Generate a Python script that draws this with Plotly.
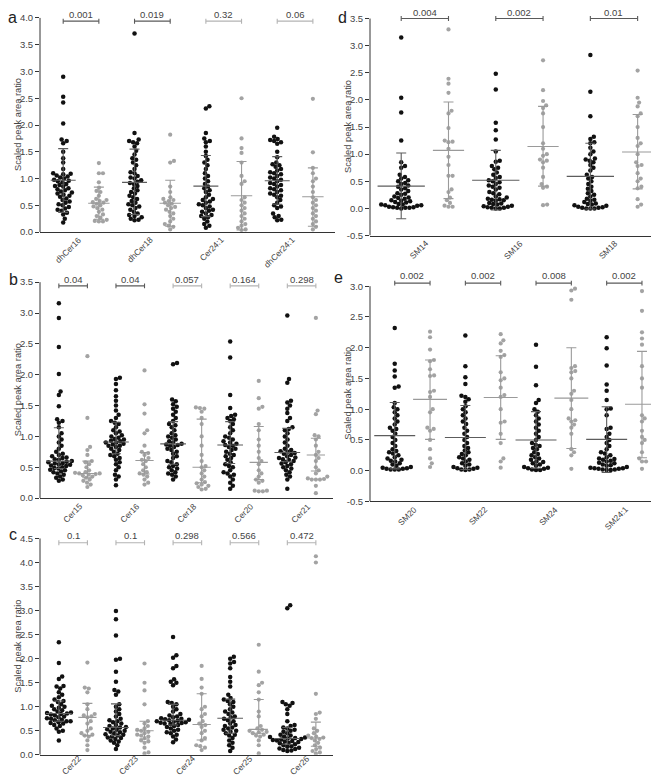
import math
import plotly.graph_objects as go

# ---------------- DATA ----------------
# Panel a
A_CATS = ["dhCer16", "dhCer18", "Cer24:1", "dhCer24:1"]
A_P = ["0.001", "0.019", "0.32", "0.06"]
A_BLACK = [
    [2.90, 2.53, 2.42, 2.03, 1.73, 1.70, 1.66, 1.50, 1.38, 1.30, 1.18, 1.10, 1.09, 1.08, 1.06, 1.04, 1.02, 1.00, 0.98, 0.96,
     0.95, 0.93, 0.90, 0.88, 0.86, 0.85, 0.82, 0.80, 0.78, 0.76, 0.74, 0.72, 0.70, 0.68, 0.66, 0.63, 0.60, 0.57, 0.55, 0.52,
     0.50, 0.47, 0.44, 0.42, 0.40, 0.36, 0.33, 0.25, 0.18],
    [3.71, 1.85, 1.73, 1.70, 1.68, 1.66, 1.60, 1.52, 1.45, 1.38, 1.35, 1.30, 1.25, 1.18, 1.12, 1.10, 1.05, 1.02, 1.00, 0.97,
     0.94, 0.92, 0.90, 0.86, 0.82, 0.78, 0.75, 0.72, 0.68, 0.65, 0.62, 0.58, 0.55, 0.52, 0.50, 0.48, 0.45, 0.42, 0.38, 0.35,
     0.32, 0.30, 0.28, 0.25, 0.23, 0.22],
    [2.35, 2.31, 1.85, 1.75, 1.70, 1.68, 1.60, 1.50, 1.42, 1.35, 1.30, 1.25, 1.18, 1.10, 1.05, 1.00, 0.95, 0.90, 0.85, 0.82,
     0.78, 0.75, 0.70, 0.65, 0.62, 0.60, 0.57, 0.55, 0.52, 0.50, 0.48, 0.45, 0.42, 0.40, 0.38, 0.35, 0.32, 0.30, 0.28, 0.25,
     0.20, 0.15, 0.12, 0.08],
    [1.95, 1.78, 1.74, 1.72, 1.70, 1.68, 1.65, 1.50, 1.40, 1.30, 1.27, 1.25, 1.22, 1.18, 1.15, 1.12, 1.10, 1.08, 1.05, 1.02,
     1.00, 0.98, 0.95, 0.92, 0.90, 0.88, 0.85, 0.82, 0.80, 0.78, 0.75, 0.72, 0.70, 0.68, 0.65, 0.60, 0.55, 0.50, 0.48, 0.45,
     0.35, 0.30, 0.28, 0.23, 0.22],
]
A_GRAY = [
    [1.29, 1.10, 1.10, 0.93, 0.83, 0.77, 0.75, 0.68, 0.62, 0.60, 0.58, 0.56, 0.55, 0.53, 0.50, 0.48, 0.45, 0.42, 0.38, 0.33,
     0.30, 0.27, 0.23, 0.21, 0.20, 0.20],
    [1.82, 1.33, 1.30, 0.85, 0.75, 0.65, 0.62, 0.60, 0.58, 0.55, 0.53, 0.50, 0.47, 0.45, 0.42, 0.38, 0.35, 0.30, 0.25, 0.20,
     0.15, 0.12, 0.10, 0.05],
    [2.50, 1.75, 1.57, 1.48, 1.30, 1.05, 0.95, 0.90, 0.65, 0.60, 0.55, 0.50, 0.45, 0.40, 0.35, 0.30, 0.25, 0.20, 0.15, 0.12,
     0.08, 0.05, 0.04],
    [2.49, 1.49, 1.20, 1.10, 1.00, 0.95, 0.85, 0.75, 0.65, 0.60, 0.55, 0.50, 0.45, 0.40, 0.35, 0.30, 0.25, 0.20, 0.15, 0.10,
     0.05],
]
A_BLACK_MID = [0.97, 0.93, 0.86, 0.96]
A_BLACK_LO = [0.37, 0.33, 0.29, 0.52]
A_BLACK_HI = [1.56, 1.55, 1.43, 1.41]
A_GRAY_MID = [0.54, 0.54, 0.68, 0.66]
A_GRAY_LO = [0.24, 0.11, 0.04, 0.11]
A_GRAY_HI = [0.84, 0.97, 1.32, 1.20]

# Panel b
B_CATS = ["Cer15", "Cer16", "Cer18", "Cer20", "Cer21"]
B_P = ["0.04", "0.04", "0.057", "0.164", "0.298"]
B_BLACK = [
    [3.16, 2.92, 2.45, 2.01, 1.73, 1.67, 1.49, 1.28, 1.25, 1.22, 1.15, 1.05, 1.00, 0.95, 0.90, 0.85, 0.80, 0.75, 0.72, 0.70,
     0.68, 0.66, 0.65, 0.63, 0.62, 0.60, 0.59, 0.58, 0.57, 0.56, 0.55, 0.54, 0.53, 0.52, 0.50, 0.49, 0.48, 0.46, 0.45, 0.43,
     0.42, 0.40, 0.38, 0.35, 0.33, 0.30, 0.28],
    [1.95, 1.93, 1.85, 1.75, 1.65, 1.58, 1.50, 1.42, 1.35, 1.30, 1.25, 1.22, 1.20, 1.15, 1.10, 1.08, 1.05, 1.02, 1.00, 0.98,
     0.96, 0.95, 0.93, 0.92, 0.90, 0.90, 0.88, 0.87, 0.85, 0.85, 0.83, 0.80, 0.78, 0.75, 0.72, 0.70, 0.68, 0.65, 0.62, 0.58,
     0.55, 0.50, 0.45, 0.38, 0.35, 0.30, 0.21],
    [2.19, 2.17, 1.60, 1.57, 1.52, 1.48, 1.45, 1.40, 1.35, 1.30, 1.25, 1.20, 1.18, 1.15, 1.10, 1.05, 1.02, 1.00, 0.98, 0.95,
     0.92, 0.90, 0.88, 0.87, 0.86, 0.85, 0.83, 0.80, 0.78, 0.75, 0.72, 0.68, 0.65, 0.60, 0.58, 0.55, 0.52, 0.50, 0.48, 0.45,
     0.42, 0.40, 0.38, 0.35, 0.30],
    [2.54, 2.28, 1.67, 1.46, 1.35, 1.33, 1.30, 1.28, 1.25, 1.20, 1.15, 1.10, 1.05, 1.00, 0.98, 0.95, 0.92, 0.90, 0.88, 0.86,
     0.85, 0.83, 0.80, 0.78, 0.75, 0.72, 0.70, 0.68, 0.65, 0.62, 0.58, 0.55, 0.52, 0.50, 0.45, 0.42, 0.40, 0.38, 0.35, 0.30,
     0.25, 0.20, 0.15],
    [2.96, 1.93, 1.87, 1.58, 1.55, 1.50, 1.45, 1.38, 1.30, 1.25, 1.15, 1.12, 1.10, 1.05, 1.00, 0.95, 0.90, 0.85, 0.80, 0.78,
     0.76, 0.75, 0.73, 0.72, 0.70, 0.68, 0.66, 0.65, 0.63, 0.62, 0.60, 0.58, 0.56, 0.55, 0.52, 0.50, 0.48, 0.45, 0.42, 0.38,
     0.35, 0.30, 0.15],
]
B_GRAY = [
    [2.30, 1.30, 0.83, 0.78, 0.70, 0.60, 0.58, 0.55, 0.50, 0.45, 0.42, 0.41, 0.40, 0.40, 0.39, 0.38, 0.37, 0.35, 0.33, 0.30,
     0.28, 0.25, 0.22, 0.18],
    [2.07, 1.52, 1.37, 1.10, 1.05, 0.85, 0.75, 0.73, 0.70, 0.65, 0.62, 0.60, 0.55, 0.50, 0.45, 0.42, 0.40, 0.38, 0.35, 0.30,
     0.25, 0.22],
    [1.47, 1.46, 1.45, 1.40, 1.30, 1.20, 1.00, 0.85, 0.70, 0.60, 0.52, 0.50, 0.45, 0.40, 0.35, 0.30, 0.26, 0.24, 0.22, 0.20,
     0.18, 0.15, 0.14],
    [1.90, 1.62, 1.48, 1.45, 1.20, 1.10, 0.95, 0.85, 0.75, 0.65, 0.60, 0.55, 0.45, 0.40, 0.35, 0.30, 0.28, 0.25, 0.12, 0.11,
     0.11, 0.12],
    [2.92, 1.42, 1.36, 1.02, 1.00, 0.95, 0.85, 0.75, 0.70, 0.65, 0.60, 0.50, 0.45, 0.40, 0.35, 0.32, 0.31, 0.30, 0.30, 0.30,
     0.20, 0.08],
]
B_BLACK_MID = [0.60, 0.91, 0.88, 0.86, 0.74]
B_BLACK_LO = [0.48, 0.72, 0.55, 0.56, 0.59]
B_BLACK_HI = [1.14, 1.23, 1.24, 1.24, 1.13]
B_GRAY_MID = [0.40, 0.61, 0.50, 0.58, 0.70]
B_GRAY_LO = [0.33, 0.39, 0.25, 0.30, 0.44]
B_GRAY_HI = [0.60, 0.74, 1.28, 1.16, 0.97]

# Panel c
C_CATS = ["Cer22", "Cer23", "Cer24", "Cer25", "Cer26"]
C_P = ["0.1", "0.1", "0.298", "0.566", "0.472"]
C_BLACK = [
    [2.34, 1.91, 1.63, 1.58, 1.43, 1.42, 1.38, 1.30, 1.25, 1.20, 1.15, 1.12, 1.10, 1.05, 1.02, 1.00, 0.98, 0.95, 0.93, 0.90,
     0.88, 0.87, 0.86, 0.85, 0.84, 0.82, 0.80, 0.78, 0.76, 0.75, 0.73, 0.72, 0.70, 0.70, 0.68, 0.66, 0.65, 0.62, 0.60, 0.55,
     0.50, 0.48, 0.30],
    [2.99, 2.82, 2.48, 2.00, 1.98, 1.73, 1.52, 1.35, 1.32, 1.25, 1.05, 1.00, 0.95, 0.90, 0.85, 0.80, 0.75, 0.72, 0.70, 0.68,
     0.65, 0.62, 0.60, 0.58, 0.57, 0.55, 0.53, 0.52, 0.50, 0.48, 0.47, 0.45, 0.43, 0.42, 0.40, 0.38, 0.36, 0.35, 0.33, 0.30,
     0.28, 0.25, 0.20, 0.12],
    [2.45, 2.07, 2.02, 1.85, 1.80, 1.57, 1.52, 1.50, 1.45, 1.10, 1.08, 1.05, 1.00, 0.95, 0.90, 0.85, 0.82, 0.80, 0.78, 0.76,
     0.75, 0.74, 0.73, 0.72, 0.71, 0.70, 0.69, 0.68, 0.67, 0.66, 0.65, 0.64, 0.62, 0.60, 0.58, 0.55, 0.52, 0.50, 0.47, 0.45,
     0.42, 0.38, 0.32, 0.26],
    [2.04, 2.00, 1.93, 1.90, 1.80, 1.62, 1.52, 1.42, 1.25, 1.18, 1.15, 1.12, 1.10, 1.05, 1.00, 0.95, 0.90, 0.88, 0.85, 0.80,
     0.78, 0.75, 0.72, 0.70, 0.65, 0.62, 0.60, 0.57, 0.55, 0.52, 0.50, 0.48, 0.45, 0.42, 0.40, 0.35, 0.30, 0.25, 0.20, 0.15,
     0.08],
    [3.11, 3.05, 1.10, 1.08, 1.05, 1.02, 0.95, 0.85, 0.70, 0.62, 0.60, 0.57, 0.55, 0.52, 0.50, 0.48, 0.45, 0.42, 0.40, 0.38,
     0.37, 0.36, 0.35, 0.34, 0.33, 0.32, 0.31, 0.30, 0.29, 0.28, 0.27, 0.25, 0.24, 0.22, 0.20, 0.18, 0.17, 0.15, 0.13, 0.12,
     0.10, 0.09, 0.08],
]
C_GRAY = [
    [1.92, 1.40, 1.38, 1.30, 1.05, 0.95, 0.85, 0.82, 0.80, 0.78, 0.70, 0.65, 0.55, 0.50, 0.45, 0.42, 0.40, 0.38, 0.30, 0.20,
     0.10],
    [1.90, 1.50, 1.34, 1.05, 0.70, 0.65, 0.60, 0.55, 0.52, 0.50, 0.48, 0.45, 0.42, 0.40, 0.38, 0.35, 0.30, 0.28, 0.25, 0.15,
     0.05, 0.03],
    [1.85, 1.58, 1.40, 1.27, 1.00, 0.95, 0.85, 0.80, 0.70, 0.65, 0.62, 0.58, 0.50, 0.45, 0.35, 0.30, 0.20, 0.18, 0.15, 0.10],
    [2.29, 1.73, 1.50, 1.45, 1.30, 1.15, 0.90, 0.80, 0.60, 0.55, 0.52, 0.50, 0.48, 0.47, 0.45, 0.42, 0.40, 0.38, 0.30, 0.20,
     0.03],
    [4.13, 4.00, 1.27, 0.88, 0.85, 0.75, 0.55, 0.50, 0.45, 0.40, 0.38, 0.36, 0.35, 0.33, 0.30, 0.25, 0.20, 0.15, 0.12, 0.08,
     0.05, 0.03],
]
C_BLACK_MID = [0.86, 0.57, 0.72, 0.76, 0.34]
C_BLACK_LO = [0.70, 0.40, 0.62, 0.45, 0.22]
C_BLACK_HI = [1.12, 1.06, 1.05, 1.16, 0.57]
C_GRAY_MID = [0.78, 0.50, 0.63, 0.53, 0.35]
C_GRAY_LO = [0.40, 0.33, 0.31, 0.45, 0.18]
C_GRAY_HI = [1.07, 0.70, 1.27, 1.15, 0.68]

# Panel d
D_CATS = ["SM14", "SM16", "SM18"]
D_P = ["0.004", "0.002", "0.01"]
D_BLACK = [
    [3.15, 2.04, 1.77, 1.25, 0.85, 0.78, 0.75, 0.62, 0.58, 0.55, 0.52, 0.50, 0.47, 0.45, 0.42, 0.40, 0.37, 0.35, 0.32, 0.28,
     0.27, 0.25, 0.22, 0.20, 0.19, 0.18, 0.15, 0.14, 0.13, 0.12, 0.11, 0.08, 0.07, 0.07, 0.06, 0.06, 0.05, 0.03, 0.02, 0.02,
     0.01, 0.01, 0.01, 0.00],
    [2.48, 2.19, 1.58, 1.44, 1.27, 1.05, 0.88, 0.86, 0.78, 0.75, 0.72, 0.66, 0.62, 0.58, 0.56, 0.52, 0.50, 0.48, 0.45, 0.42,
     0.40, 0.38, 0.35, 0.30, 0.28, 0.26, 0.22, 0.20, 0.18, 0.17, 0.16, 0.15, 0.14, 0.10, 0.09, 0.08, 0.07, 0.05, 0.04, 0.03,
     0.02, 0.01, 0.01, 0.00, 0.00],
    [2.83, 2.15, 1.70, 1.32, 1.28, 1.22, 1.20, 1.12, 1.05, 1.00, 0.92, 0.90, 0.88, 0.85, 0.80, 0.75, 0.70, 0.62, 0.58, 0.55,
     0.50, 0.45, 0.40, 0.36, 0.32, 0.28, 0.25, 0.22, 0.18, 0.16, 0.14, 0.12, 0.09, 0.08, 0.07, 0.06, 0.05, 0.03, 0.02, 0.01,
     0.01, 0.00, 0.00, 0.00],
]
D_GRAY = [
    [3.30, 2.39, 2.30, 2.13, 1.80, 1.75, 1.48, 1.25, 1.23, 1.22, 1.10, 0.95, 0.80, 0.60, 0.60, 0.35, 0.30, 0.20, 0.15, 0.10,
     0.05, 0.03, 0.03],
    [2.73, 2.18, 1.98, 1.90, 1.85, 1.75, 1.50, 1.20, 1.10, 1.00, 0.97, 0.90, 0.88, 0.85, 0.75, 0.58, 0.45, 0.40, 0.38, 0.07,
     0.06],
    [2.54, 2.04, 1.95, 1.88, 1.75, 1.70, 1.50, 1.30, 1.20, 1.15, 1.00, 0.85, 0.80, 0.78, 0.65, 0.55, 0.50, 0.40, 0.37, 0.17,
     0.07, 0.03],
]
D_BLACK_MID = [0.41, 0.52, 0.59]
D_BLACK_LO = [-0.19, -0.03, -0.01]
D_BLACK_HI = [1.02, 1.07, 1.20]
D_GRAY_MID = [1.07, 1.14, 1.04]
D_GRAY_LO = [0.18, 0.41, 0.36]
D_GRAY_HI = [1.96, 1.88, 1.73]

# Panel e
E_CATS = ["SM20", "SM22", "SM24", "SM24:1"]
E_P = ["0.002", "0.002", "0.008", "0.002"]
E_BLACK = [
    [2.32, 1.74, 1.63, 1.53, 1.37, 1.35, 1.10, 1.03, 1.00, 0.95, 0.90, 0.85, 0.80, 0.75, 0.70, 0.68, 0.65, 0.60, 0.55, 0.50,
     0.45, 0.40, 0.35, 0.32, 0.30, 0.28, 0.25, 0.22, 0.20, 0.18, 0.16, 0.15, 0.12, 0.10, 0.08, 0.06, 0.05, 0.04, 0.03, 0.03,
     0.02, 0.02, 0.02],
    [2.20, 1.70, 1.52, 1.41, 1.22, 1.20, 1.16, 1.12, 1.05, 1.00, 0.95, 0.90, 0.85, 0.80, 0.76, 0.70, 0.65, 0.60, 0.55, 0.50,
     0.45, 0.40, 0.37, 0.33, 0.30, 0.27, 0.25, 0.22, 0.20, 0.18, 0.15, 0.12, 0.10, 0.08, 0.06, 0.05, 0.04, 0.03, 0.02, 0.02,
     0.01],
    [2.05, 1.69, 1.39, 1.15, 1.10, 1.00, 0.96, 0.90, 0.85, 0.80, 0.75, 0.70, 0.65, 0.60, 0.55, 0.50, 0.45, 0.42, 0.40, 0.37,
     0.35, 0.30, 0.27, 0.25, 0.22, 0.20, 0.18, 0.15, 0.14, 0.12, 0.10, 0.08, 0.06, 0.05, 0.04, 0.03, 0.02, 0.01, 0.01],
    [2.17, 1.99, 1.71, 1.40, 1.30, 1.15, 1.01, 1.00, 0.90, 0.70, 0.68, 0.60, 0.55, 0.50, 0.45, 0.40, 0.35, 0.30, 0.28, 0.25,
     0.22, 0.20, 0.19, 0.18, 0.16, 0.15, 0.13, 0.12, 0.10, 0.09, 0.08, 0.06, 0.05, 0.04, 0.04, 0.03, 0.03, 0.02, 0.02, 0.01,
     0.01],
]
E_GRAY = [
    [2.26, 2.17, 1.97, 1.80, 1.78, 1.65, 1.55, 1.54, 1.30, 1.28, 1.20, 1.00, 0.95, 0.70, 0.68, 0.65, 0.50, 0.35, 0.20, 0.12,
     0.06],
    [2.22, 2.12, 2.07, 1.95, 1.88, 1.85, 1.60, 1.50, 1.47, 1.35, 1.23, 1.20, 1.00, 0.80, 0.78, 0.60, 0.45, 0.20, 0.15, 0.05],
    [2.96, 2.93, 2.78, 1.70, 1.67, 1.62, 1.60, 1.50, 1.30, 1.25, 1.15, 1.00, 0.85, 0.82, 0.80, 0.75, 0.70, 0.60, 0.35, 0.30,
     0.25, 0.03],
    [2.92, 2.60, 2.25, 2.15, 2.05, 1.70, 1.50, 1.35, 0.90, 0.85, 0.80, 0.65, 0.55, 0.50, 0.45, 0.30, 0.20, 0.15, 0.15, 0.03],
]
E_BLACK_MID = [0.57, 0.54, 0.50, 0.51]
E_BLACK_LO = [0.03, 0.02, 0.04, -0.03]
E_BLACK_HI = [1.11, 1.06, 0.96, 1.04]
E_GRAY_MID = [1.16, 1.19, 1.18, 1.08]
E_GRAY_LO = [0.51, 0.51, 0.36, 0.21]
E_GRAY_HI = [1.80, 1.87, 2.00, 1.94]

Y_TITLE = "Scaled peak area ratio"

# ---------------- LAYOUT / STYLE ----------------
W, H = 659, 776
FONT = "Liberation Sans, Arial, sans-serif"
TXT = "#444444"
AX = "#333333"
BLACK_DOT = "#111111"
GRAY_DOT = "#a3a3a3"
BLACK_BAR = "#5c5c5c"
GRAY_BAR = "#9a9a9a"
TICK_FS = 9.5
CAT_FS = 8.4
P_FS = 9.5
TITLE_FS = 9.3

panels = [
    dict(key="a", cats=A_CATS, p=A_P, blk=A_BLACK, gry=A_GRAY,
         bm=A_BLACK_MID, bl=A_BLACK_LO, bh=A_BLACK_HI, gm=A_GRAY_MID, gl=A_GRAY_LO, gh=A_GRAY_HI,
         x0=32, x1=327, xr=[-0.65, 7.62], zero=225.6, py=53.9, yr=[0, 4.15], ytop=4.0,
         br=3.94, pt=4.07, mwb=0.35, mwg=0.30, letter=(4, 10), lshift=2, ldrop=3),
    dict(key="b", cats=B_CATS, p=B_P, blk=B_BLACK, gry=B_GRAY,
         bm=B_BLACK_MID, bl=B_BLACK_LO, bh=B_BLACK_HI, gm=B_GRAY_MID, gl=B_GRAY_LO, gh=B_GRAY_HI,
         x0=32, x1=325, xr=[-0.66, 9.6], zero=493.3, py=62.1, yr=[0, 3.62], ytop=3.5,
         br=3.44, pt=3.55, mwb=0.45, mwg=0.32, letter=(5, 273), lshift=11, ldrop=3),
    dict(key="c", cats=C_CATS, p=C_P, blk=C_BLACK, gry=C_GRAY,
         bm=C_BLACK_MID, bl=C_BLACK_LO, bh=C_BLACK_HI, gm=C_GRAY_MID, gl=C_GRAY_LO, gh=C_GRAY_HI,
         x0=32, x1=325, xr=[-0.66, 9.6], zero=751.7, py=48.4, yr=[0, 4.65], ytop=4.5,
         br=4.41, pt=4.56, mwb=0.45, mwg=0.32, letter=(5, 530), lshift=10, ldrop=-1.5),
    dict(key="d", cats=D_CATS, p=D_P, blk=D_BLACK, gry=D_GRAY,
         bm=D_BLACK_MID, bl=D_BLACK_LO, bh=D_BLACK_HI, gm=D_GRAY_MID, gl=D_GRAY_LO, gh=D_GRAY_HI,
         x0=362, x1=658, xr=[-0.66, 5.60], zero=201.7, py=54.6, yr=[-0.5, 3.66], ytop=3.5,
         br=3.50, pt=3.61, mwb=0.50, mwg=0.33, letter=(334, 10), lshift=5, ldrop=3),
    dict(key="e", cats=E_CATS, p=E_P, blk=E_BLACK, gry=E_GRAY,
         bm=E_BLACK_MID, bl=E_BLACK_LO, bh=E_BLACK_HI, gm=E_GRAY_MID, gl=E_GRAY_LO, gh=E_GRAY_HI,
         x0=362, x1=658, xr=[-0.70, 7.68], zero=465.7, py=61.9, yr=[-0.5, 3.26], ytop=3.0,
         br=3.05, pt=3.17, mwb=0.58, mwg=0.48, letter=(330, 271), lshift=6, ldrop=3),
]


def swarm(vals, py, d):
    """Beeswarm offsets (pixels) for values with vertical scale py px/unit."""
    order = sorted(range(len(vals)), key=lambda i: vals[i])
    placed = []
    xs = [0.0] * len(vals)
    for i in order:
        y = vals[i] * py
        cands = [0.0]
        for (qx, qy) in placed:
            dy = y - qy
            if abs(dy) < d:
                dx = math.sqrt(d * d - dy * dy)
                cands += [qx + dx, qx - dx]
        cands.sort(key=lambda c: (round(abs(c), 6), -c))
        chosen = 0.0
        for c in cands:
            if all((c - qx) ** 2 + (y - qy) ** 2 >= d * d - 1e-6 for qx, qy in placed):
                chosen = c
                break
        xs[i] = chosen
        placed.append((chosen, y))
    return xs


fig = go.Figure()
layout = dict(width=W, height=H, margin=dict(l=0, r=0, t=0, b=0), autosize=False,
              paper_bgcolor="white", plot_bgcolor="white", showlegend=False,
              font=dict(family=FONT, size=10, color=TXT))
shapes = []
annotations = []

for k, P in enumerate(panels):
    n = k + 1
    xa = "x" if n == 1 else f"x{n}"
    ya = "y" if n == 1 else f"y{n}"
    xkey = "xaxis" if n == 1 else f"xaxis{n}"
    ykey = "yaxis" if n == 1 else f"yaxis{n}"
    ymin, ymax = P["yr"]
    top_px = P["zero"] - ymax * P["py"]
    bot_px = P["zero"] - ymin * P["py"]
    xpx_per_unit = (P["x1"] - P["x0"]) / (P["xr"][1] - P["xr"][0])
    ncat = len(P["cats"])
    layout[xkey] = dict(domain=[P["x0"] / W, P["x1"] / W], range=P["xr"], anchor=ya,
                        showline=True, linecolor=AX, linewidth=1, ticks="", showgrid=False, zeroline=False,
                        showticklabels=False)
    tv = []
    v = ymin
    while v <= P["ytop"] + 1e-9:
        tv.append(round(v, 2))
        v += 0.5
    layout[ykey] = dict(domain=[1 - bot_px / H, 1 - top_px / H], range=P["yr"], anchor=xa,
                        showline=False, ticks="outside", ticklen=4, tickcolor=AX, tickwidth=1,
                        showgrid=False, zeroline=False, tickmode="array", tickvals=tv,
                        ticktext=[f"{t:.1f}" for t in tv], tickfont=dict(size=TICK_FS, color=TXT, family=FONT))
    # y axis line only up to the top tick
    shapes.append(dict(type="line", xref="paper", yref=ya, x0=P["x0"] / W, x1=P["x0"] / W,
                       y0=ymin, y1=P["ytop"], line=dict(color=AX, width=1)))

    # category labels (rotated, end anchored near the pair centre)
    for gi, cat in enumerate(P["cats"]):
        annotations.append(dict(x=2 * gi + 0.5 + P["lshift"] / xpx_per_unit, y=1 - (bot_px + P["ldrop"]) / H,
                                xref=xa, yref="paper", text=cat, textangle=-45, showarrow=False,
                                xanchor="right", yanchor="top", borderpad=0, borderwidth=0,
                                font=dict(size=CAT_FS, color=TXT, family=FONT)))

    # dots
    for gi in range(ncat):
        for grp, vals, color, size in (("b", P["blk"][gi], BLACK_DOT, 4.5), ("g", P["gry"][gi], GRAY_DOT, 4.2)):
            slot = 2 * gi + (0 if grp == "b" else 1)
            offs = swarm(vals, P["py"], 4.1)
            fig.add_trace(go.Scatter(x=[slot + o / xpx_per_unit for o in offs], y=vals, mode="markers",
                                     xaxis=xa, yaxis=ya, hoverinfo="skip",
                                     marker=dict(color=color, size=size, line=dict(width=0))))
    # error bars
    cap = 5.0 / xpx_per_unit
    for grp, mids, los, his, color, mw in (("b", P["bm"], P["bl"], P["bh"], BLACK_BAR, P["mwb"]),
                                           ("g", P["gm"], P["gl"], P["gh"], GRAY_BAR, P["mwg"])):
        xs, ys = [], []
        for gi in range(ncat):
            s = 2 * gi + (0 if grp == "b" else 1)
            xs += [s, s, None, s - cap, s + cap, None, s - cap, s + cap, None, s - mw, s + mw, None]
            ys += [los[gi], his[gi], None, los[gi], los[gi], None, his[gi], his[gi], None,
                   mids[gi], mids[gi], None]
        fig.add_trace(go.Scatter(x=xs, y=ys, mode="lines", xaxis=xa, yaxis=ya, hoverinfo="skip",
                                 line=dict(color=color, width=1.1)))
    # p-value brackets
    tick = 2.5 / P["py"]
    for gi in range(ncat):
        pv = float(P["p"][gi])
        bc = "#5a5a5a" if pv < 0.05 else "#b3b3b3"
        xa0, xa1 = 2 * gi, 2 * gi + 1
        shapes.append(dict(type="line", xref=xa, yref=ya, x0=xa0, x1=xa1, y0=P["br"], y1=P["br"],
                           line=dict(color=bc, width=1.1)))
        for xx in (xa0, xa1):
            shapes.append(dict(type="line", xref=xa, yref=ya, x0=xx, x1=xx, y0=P["br"] - tick,
                               y1=P["br"] + tick, line=dict(color=bc, width=1.1)))
        annotations.append(dict(x=gi * 2 + 0.5, y=P["pt"], xref=xa, yref=ya, text=P["p"][gi],
                                showarrow=False, font=dict(size=P_FS, color=TXT, family=FONT),
                                xanchor="center", yanchor="middle"))
    # y title
    annotations.append(dict(x=(P["x0"] - 22) / W, y=1 - ((P["zero"] - P["ytop"] * P["py"] + bot_px) / 2) / H,
                            xref="paper", yref="paper", text=Y_TITLE, textangle=-90, showarrow=False,
                            font=dict(size=TITLE_FS, color=TXT, family=FONT), xanchor="center", yanchor="middle"))
    # panel letter
    lx, ly = P["letter"]
    annotations.append(dict(x=lx / W, y=1 - ly / H, xref="paper", yref="paper", text=P["key"],
                            showarrow=False, borderpad=0, borderwidth=0,
                            font=dict(size=16, color="#222222", family=FONT),
                            xanchor="center", yanchor="middle"))

layout["shapes"] = shapes
layout["annotations"] = annotations
fig.update_layout(**layout)
fig.write_html("out.html")
